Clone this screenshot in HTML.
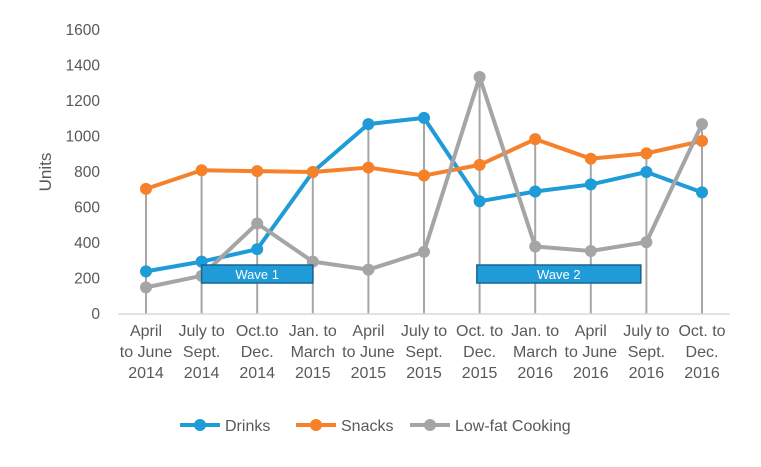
<!DOCTYPE html>
<html><head><meta charset="utf-8"><style>
body{margin:0;background:#fff}
svg{font-family:"Liberation Sans",sans-serif}
</style></head><body>
<svg id="c" width="761" height="462"></svg>
<script>
const categories=[["April","to June","2014"],["July to","Sept.","2014"],["Oct.to","Dec.","2014"],["Jan. to","March","2015"],["April","to June","2015"],["July to","Sept.","2015"],["Oct. to","Dec.","2015"],["Jan. to","March","2016"],["April","to June","2016"],["July to","Sept.","2016"],["Oct. to","Dec.","2016"]];
const drinks=[240,295,365,800,1070,1105,635,690,730,800,685];
const snacks=[705,810,805,800,825,780,840,985,875,905,975];
const lowfat=[150,215,510,295,250,350,1335,380,355,405,1070];
const yTicks=[0,200,400,600,800,1000,1200,1400,1600];
const seriesNames=["Drinks","Snacks","Low-fat Cooking"];
const colors=["#1f9bd7","#f5812a","#a5a5a5"];
const svg=document.getElementById('c');const NS="http://www.w3.org/2000/svg";
function mk(t,a,p){const e=document.createElementNS(NS,t);for(const k in a)e.setAttribute(k,a[k]);(p||svg).appendChild(e);return e;}
const X=i=>146+i*55.6;const Y=v=>314-v*(284/1600);
yTicks.forEach(v=>{const t=mk('text',{x:100,y:Y(v)+5,'text-anchor':'end','font-size':15.5,fill:'#595959'});t.textContent=v;

});
const yt=mk('text',{x:0,y:0,transform:'translate(51,172) rotate(-90)','text-anchor':'middle','font-size':17,fill:'#595959'});yt.textContent='Units';


categories.forEach((c,i)=>{const m=Math.max(drinks[i],snacks[i],lowfat[i]);const l=mk('line',{x1:X(i),x2:X(i),y1:Y(m),y2:314,stroke:'#a6a6a6','stroke-width':2});


c.forEach((s,j)=>{const t=mk('text',{x:X(i),y:336+j*21,'text-anchor':'middle','font-size':16,fill:'#595959'});t.textContent=s;

});});
const ax=mk('line',{x1:118,x2:730,y1:314,y2:314,stroke:'#d9d9d9','stroke-width':1.5});


[drinks,snacks,lowfat].forEach((d,s)=>{const g=mk('g',{});


mk('polyline',{points:d.map((v,i)=>X(i)+','+Y(v)).join(' '),fill:'none',stroke:colors[s],'stroke-width':4,'stroke-linejoin':'round'},g);
d.forEach((v,i)=>{const p=mk('circle',{cx:X(i),cy:Y(v),r:6,fill:colors[s]},g);

});});
[[1,3,'Wave 1'],[5.95,8.9,'Wave 2']].forEach(([a,b,t])=>{const g=mk('g',{});


mk('rect',{x:X(a),y:265,width:X(b)-X(a),height:18,fill:'#1f9bd7',stroke:'#17668f','stroke-width':1.5},g);
const tx=mk('text',{x:(X(a)+X(b))/2,y:279,'text-anchor':'middle','font-size':13,fill:'#fff'},g);tx.textContent=t;});
const lx=[180,296,410];
seriesNames.forEach((n,s)=>{const g=mk('g',{});


mk('line',{x1:lx[s],x2:lx[s]+40,y1:425,y2:425,stroke:colors[s],'stroke-width':4},g);
mk('circle',{cx:lx[s]+20,cy:425,r:6,fill:colors[s]},g);
const t=mk('text',{x:lx[s]+45,y:431,'font-size':16,fill:'#595959'},g);t.textContent=n;});
</script>
</body></html>
